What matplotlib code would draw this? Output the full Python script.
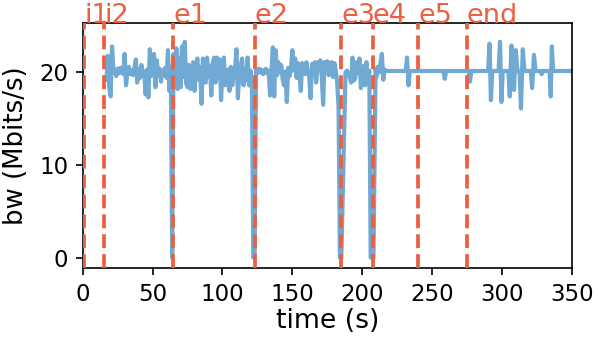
import numpy as np
import matplotlib.pyplot as plt

# bandwidth trace (time in s, bw in Mbits/s)
t_seg1 = [17, 18, 19, 20, 21, 22, 23, 24, 25, 26, 27, 28, 29, 30, 31, 32, 33, 34, 35, 36,
          37, 38, 39, 40, 41, 42, 43, 44, 45, 46, 47, 48, 49, 50, 51, 52, 53, 54, 55, 56,
          57, 58, 59, 60, 61, 62, 63, 64]
bw_seg1 = [19.2, 21.8, 18.4, 17.4, 22.8, 20.0, 20.3, 19.6, 20.4, 19.9, 20.5, 20.1, 19.8, 22.0, 18.6, 20.2, 20.6, 19.8, 20.2, 19.7,
           20.5, 21.4, 18.9, 20.3, 19.4, 20.8, 19.6, 20.1, 17.6, 20.3, 17.3, 22.5, 19.6, 20.3, 22.0, 18.4, 21.3, 19.7, 20.4, 19.0,
           20.2, 19.8, 20.5, 19.4, 22.4, 18.0, 20.6, 0.0]

t_seg2 = [65, 66, 67, 68, 69, 70, 71, 72, 73, 74, 75, 76, 77, 78, 79, 80, 81, 82, 83, 84,
          85, 86, 87, 88, 89, 90, 91, 92, 93, 94, 95, 96, 97, 98, 99, 100, 101, 102, 103, 104,
          105, 106, 107, 108, 109, 110, 111, 112, 113, 114, 115, 116, 117, 118, 119, 120, 121, 122, 123]
bw_seg2 = [22.0, 18.5, 22.6, 18.2, 21.5, 18.4, 22.8, 19.5, 23.3, 18.8, 18.4, 20.8, 18.2, 19.7, 21.1, 18.0, 20.3, 21.5, 19.2, 20.6,
           16.6, 21.5, 19.0, 18.9, 21.6, 19.5, 20.7, 17.5, 21.0, 21.6, 18.9, 21.6, 19.5, 21.4, 17.0, 20.5, 21.6, 18.6, 19.4, 20.3,
           18.0, 20.6, 18.6, 19.9, 20.4, 22.5, 17.2, 19.8, 20.7, 21.5, 18.6, 20.4, 19.2, 21.6, 18.6, 20.2, 19.0, 0.0, 0.0]

t_seg3 = [124, 125, 126, 127, 128, 129, 130, 131, 132, 133, 134, 135, 136, 137, 138, 139, 140, 141, 142, 143,
          144, 145, 146, 147, 148, 149, 150, 151, 152, 153, 154, 155, 156, 157, 158, 159, 160, 161, 162, 163,
          164, 165, 166, 167, 168, 169, 170, 171, 172, 173, 174, 175, 176, 177, 178, 179, 180, 181, 182, 183,
          184, 185]
bw_seg3 = [20.2, 19.9, 20.4, 20.0, 20.3, 19.8, 20.0, 20.4, 19.9, 20.2, 17.5, 20.0, 22.7, 17.4, 22.4, 19.7, 21.1, 20.0, 20.8, 19.3,
           18.6, 20.1, 16.8, 20.5, 19.6, 20.4, 22.4, 20.2, 21.5, 19.4, 21.0, 19.9, 18.0, 21.0, 20.0, 19.8, 21.1, 20.0, 19.6, 17.2,
           20.9, 20.0, 21.1, 18.9, 21.1, 20.3, 21.3, 19.5, 16.5, 21.1, 20.4, 21.2, 19.7, 20.3, 21.1, 19.5, 21.0, 20.2, 19.0, 16.3,
           0.0, 0.0]

t_seg4 = [188, 189, 190, 191, 192, 193, 194, 195, 196, 197, 198, 199, 200, 201, 202, 203, 204, 205, 206, 208,
          209.5, 210, 211, 212, 213, 214, 215, 216, 217]
bw_seg4 = [20.0, 20.2, 19.8, 19.5, 18.9, 21.6, 19.1, 19.4, 21.1, 20.0, 21.5, 18.3, 19.5, 20.7, 18.6, 21.1, 18.9, 20.2, 0.0, 0.0,
           20.3, 19.5, 20.6, 20.0, 21.0, 22.0, 19.2, 20.3, 20.15]

t_seg5 = [231, 232, 233, 234, 258, 259, 260, 276, 277, 278,
          290, 291, 292, 293, 297.5, 298.5, 299.5, 300.5,
          304.5, 305.5, 306.7, 307.5, 308.5, 309.8, 311,
          312.5, 313.5, 314.8, 316, 320.5, 321.5, 322.8, 324,
          327.5, 328.3, 329, 334, 334.8, 335.6, 336.5, 350]
bw_seg5 = [20.15, 21.6, 18.6, 20.15, 20.15, 19.3, 20.15, 20.15, 19.0, 20.15,
           20.15, 23.1, 17.0, 20.15, 20.15, 23.3, 16.8, 20.15,
           20.15, 17.4, 22.9, 19.0, 18.1, 22.4, 20.15,
           20.15, 16.1, 22.5, 20.15, 20.15, 18.3, 21.9, 20.15,
           20.15, 19.8, 20.15, 20.15, 17.4, 22.8, 20.15, 20.15]

events = ['i1', 'i2', 'e1', 'e2', 'e3', 'e4', 'e5', 'end']
event_t = [1.0, 15.5, 64.8, 122.9, 185.0, 207.4, 240.2, 274.8]

time = np.array(t_seg1 + t_seg2 + t_seg3 + t_seg4 + t_seg5)
bw = np.array(bw_seg1 + bw_seg2 + bw_seg3 + bw_seg4 + bw_seg5)

red = '#ec6042'
blue = '#70a9d4'

fig = plt.figure(figsize=(598/150, 337/150), dpi=150)
ax = fig.add_axes([0.1383, 0.2039, 0.8182, 0.7270])
ax.plot(time, bw, color=blue, lw=2.0, zorder=2)

ylo, yhi = -1.15, 25.3
for name, te in zip(events, event_t):
    ax.axvline(te, color=red, ls='--', lw=1.8, zorder=3)
    ax.text(te, yhi, name, color=red, fontsize=13, ha='left', va='baseline')

ax.set_xlim(0, 350)
ax.set_ylim(ylo, yhi)
ax.set_xticks(np.arange(0, 351, 50))
ax.set_yticks([0, 10, 20])
ax.tick_params(labelsize=11)
ax.set_xlabel('time (s)', fontsize=12.8, labelpad=1)
ax.set_ylabel('bw (Mbits/s)', fontsize=12.5, labelpad=5)

fig.savefig('out.png', dpi=150)
